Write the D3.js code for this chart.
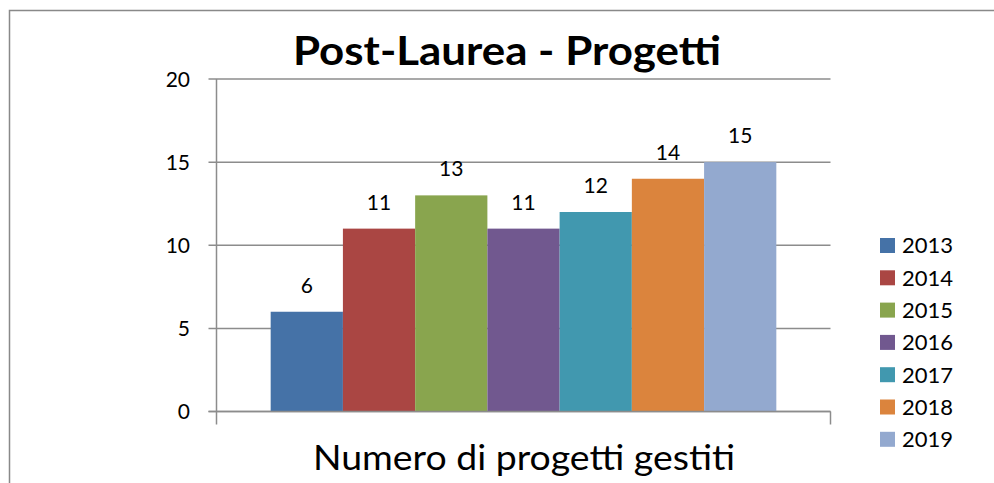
<!DOCTYPE html>
<html><head><meta charset="utf-8">
<script src="https://cdn.jsdelivr.net/npm/d3@7"></script>
<style>body{margin:0;background:#fff}svg{display:block}text{font-family:Lato,"Open Sans",sans-serif;fill:#000}</style>
</head><body><svg id="c" width="994" height="483"></svg>
<script>
const categories = ["Numero di progetti gestiti"];
const series = ["2013","2014","2015","2016","2017","2018","2019"];
const values = [6,11,13,11,12,14,15];
const colors = ["#4572A7","#AA4643","#89A54E","#71588F","#4198AF","#DB843D","#93A9CF"];
const yTicks = [0,5,10,15,20];
const title = "Post-Laurea - Progetti";

const svg = d3.select("#c");
svg.append("rect").attr("x",9.5).attr("y",10.5).attr("width",1100).attr("height",600)
  .attr("fill","none").attr("stroke","#898989").attr("stroke-width",1.5);

const L=216.5, R=830.5, T=79, B=411.5;
const y = d3.scaleLinear().domain([0,20]).range([B,T]);
const x0 = d3.scaleBand().domain(categories).range([L,R]).paddingInner(0).paddingOuter(0);
const bw = x0.bandwidth()/(series.length+1.5);
const x1 = d3.scaleBand().domain(series).range([x0(categories[0])+0.75*bw, x0(categories[0])+x0.bandwidth()-0.75*bw]).padding(0);

// gridlines
svg.append("g").selectAll("line").data(yTicks).join("line")
  .attr("x1",L-8).attr("x2",R).attr("y1",d=>y(d)).attr("y2",d=>y(d))
  .attr("stroke","#8c8c8c").attr("stroke-width",1.5);

// bars
svg.selectAll("rect.bar").data(values).join("rect").attr("class","bar")
  .attr("x",(d,i)=>x1(series[i])).attr("width",x1.bandwidth())
  .attr("y",d=>y(d)).attr("height",d=>y(0)-y(d))
  .attr("fill",(d,i)=>colors[i]);

// axis lines
svg.append("line").attr("x1",L).attr("x2",L).attr("y1",T).attr("y2",B+13)
  .attr("stroke","#8c8c8c").attr("stroke-width",1.5);
svg.append("line").attr("x1",R).attr("x2",R).attr("y1",B).attr("y2",B+13)
  .attr("stroke","#8c8c8c").attr("stroke-width",1.5);
svg.append("line").attr("x1",L-8).attr("x2",R).attr("y1",B).attr("y2",B)
  .attr("stroke","#8c8c8c").attr("stroke-width",1.5);

// y tick labels
svg.selectAll("text.yt").data(yTicks).join("text")
  .attr("x",190).attr("y",d=>y(d)+7.5).attr("text-anchor","end")
  .style("font-size","21px").text(d=>d);

// data labels
svg.selectAll("text.dl").data(values).join("text")
  .attr("x",(d,i)=>x1(series[i])+x1.bandwidth()/2).attr("y",d=>y(d)-19)
  .attr("text-anchor","middle").style("font-size","21px").text(d=>d);

// title
svg.append("text").attr("x",507).attr("y",65).attr("text-anchor","middle")
  .attr("textLength",428).attr("lengthAdjust","spacingAndGlyphs")
  .style("font-size","40px").style("font-weight","bold").text(title);

// category label
svg.append("text").attr("x",524).attr("y",470).attr("text-anchor","middle")
  .attr("textLength",422).attr("lengthAdjust","spacingAndGlyphs")
  .style("font-size","35px").text(categories[0]);

// legend
const lg = svg.append("g");
series.forEach((s,i)=>{
  lg.append("rect").attr("x",880).attr("y",238+i*32.3).attr("width",15).attr("height",15).attr("fill",colors[i]);
  lg.append("text").attr("x",902).attr("y",253.3+i*32.3).style("font-size","22px").text(s);
});
</script></body></html>
